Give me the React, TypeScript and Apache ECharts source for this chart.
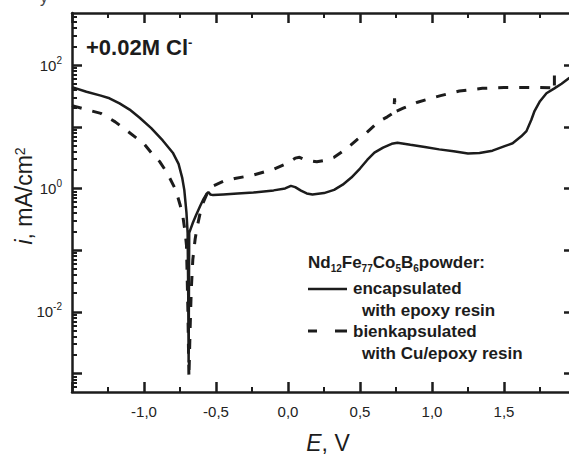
import React, { useEffect, useRef } from 'react';
import * as echarts from 'echarts';

const FONT = '"Liberation Sans", Arial, Helvetica, sans-serif';
const INK = '#1c1c1c';

// Potential E (V) and current density i (mA/cm2)
const encapsulatedE = [-1.5, -1.4, -1.3, -1.24, -1.17, -1.1, -1.03, -0.95, -0.87, -0.8, -0.76, -0.735, -0.72, -0.705, -0.697, -0.693, -0.69, -0.688, -0.686, -0.66, -0.638, -0.61, -0.59, -0.565, -0.553, -0.54, -0.52, -0.45, -0.35, -0.24, -0.1, -0.02, 0.02, 0.05, 0.09, 0.13, 0.17, 0.25, 0.32, 0.38, 0.44, 0.5, 0.55, 0.6, 0.66, 0.72, 0.76, 0.85, 0.95, 1.05, 1.15, 1.25, 1.33, 1.42, 1.5, 1.56, 1.62, 1.656, 1.69, 1.712, 1.75, 1.795, 1.85, 1.9, 1.95, 1.99];
const encapsulatedI = [44, 37, 32, 29, 24, 19, 14, 9.5, 6.0, 3.8, 2.5, 1.5, 0.94, 0.4, 0.19, 0.02, 0.0015, 0.02, 0.19, 0.28, 0.37, 0.52, 0.65, 0.82, 0.87, 0.8, 0.78, 0.8, 0.83, 0.86, 0.93, 1.0, 1.1, 1.05, 0.92, 0.83, 0.8, 0.84, 0.95, 1.15, 1.5, 2.1, 2.9, 3.8, 4.6, 5.3, 5.5, 5.1, 4.7, 4.3, 4.0, 3.7, 3.75, 4.1, 4.8, 5.4, 7.0, 8.5, 13, 18, 26, 35, 42, 50, 61, 70];

const bienkapsulatedE = [-1.5, -1.4, -1.3, -1.2, -1.1, -1.0, -0.95, -0.89, -0.84, -0.78, -0.75, -0.73, -0.715, -0.705, -0.695, -0.688, -0.68, -0.672, -0.661, -0.645, -0.632, -0.61, -0.59, -0.56, -0.52, -0.45, -0.37, -0.24, -0.1, 0.0, 0.05, 0.08, 0.12, 0.2, 0.27, 0.32, 0.38, 0.42, 0.48, 0.545, 0.6, 0.64, 0.69, 0.735, 0.74, 0.745, 0.8, 0.845, 0.9, 0.97, 1.06, 1.19, 1.35, 1.5, 1.66, 1.845, 1.85, 1.85];
const bienkapsulatedI = [22, 19, 16.5, 12, 8, 5.3, 3.8, 2.7, 1.8, 0.95, 0.55, 0.35, 0.2, 0.12, 0.01, 0.00085, 0.005, 0.022, 0.07, 0.15, 0.23, 0.4, 0.58, 0.85, 1.1, 1.3, 1.45, 1.65, 2.05, 2.6, 3.1, 3.2, 2.9, 2.7, 2.9, 3.2, 4.0, 4.7, 6.2, 8.0, 10.5, 12.5, 14.5, 17, 29, 17.5, 20, 22, 25, 28, 32, 38, 42, 43.5, 43.5, 43, 39, 78];

const xLabelValues = [-1.0, -0.5, 0.0, 0.5, 1.0, 1.5];
const yLabelExponents = [-2, 0, 2];
const yDecadeExponents = [-3, -2, -1, 0, 1, 2];
const yMin = 0.0005;
const yMax = 700;

export default function App() {
  const ref = useRef<HTMLDivElement>(null);
  useEffect(() => {
    if (!ref.current) return;
    const chart = echarts.init(ref.current, null, { renderer: 'svg' });
    const lmin = Math.log10(yMin);
    const lmax = Math.log10(yMax);
    const minorLogs: number[] = [];
    for (let n = -4; n <= 2; n++) {
      for (let k = 2; k <= 9; k++) {
        const v = n + Math.log10(k);
        if (v > lmin && v < lmax) minorLogs.push(v);
      }
    }
    const axisLineStyle = { color: INK, width: 2.5 };
    const xBase: any = {
      type: 'value', min: -1.5, max: 2, interval: 0.5,
      axisLine: { onZero: false, lineStyle: axisLineStyle },
      axisTick: { inside: true, length: 10, lineStyle: { color: INK, width: 2.5 } },
      minorTick: { show: true, splitNumber: 2, length: 5, lineStyle: { color: INK, width: 2 } },
      splitLine: { show: false },
      minorSplitLine: { show: false },
    };
    const ruler: any = {
      type: 'value', min: lmin, max: lmax, splitLine: { show: false },
    };
    chart.setOption({
      animation: false,
      grid: { left: 72, right: -7, top: 13, bottom: 64, containLabel: false, outerBoundsMode: 'none' },
      xAxis: [
        {
          ...xBase, position: 'bottom',
          axisLabel: {
            margin: 12, fontSize: 15, color: '#222', fontFamily: FONT,
            formatter: (v: number) => (xLabelValues.some((t) => Math.abs(t - v) < 1e-6) ? v.toFixed(1).replace('.', ',') : ''),
          },
        },
        { ...xBase, position: 'top', axisLabel: { show: false } },
      ],
      yAxis: [
        { type: 'log', logBase: 10, min: yMin, max: yMax, show: false },
        {
          ...ruler, position: 'left',
          axisLine: { show: true, onZero: false, lineStyle: axisLineStyle },
          axisTick: { show: true, inside: true, length: 10, customValues: yDecadeExponents, lineStyle: { color: INK, width: 2.5 } },
          axisLabel: {
            show: true, margin: 10, customValues: yLabelExponents, fontFamily: FONT, color: '#222',
            formatter: (v: number) => `{b|10}{s|${Math.round(v)}}`,
            rich: {
              b: { fontSize: 15, lineHeight: 20, fontFamily: FONT, color: '#222' },
              s: { fontSize: 10, lineHeight: 10, verticalAlign: 'top', fontFamily: FONT, color: '#222' },
            },
          },
        },
        {
          ...ruler, position: 'left',
          axisLine: { show: false, onZero: false },
          axisTick: { show: true, inside: true, length: 5, customValues: minorLogs, lineStyle: { color: INK, width: 2 } },
          axisLabel: { show: false },
        },
        {
          ...ruler, position: 'right',
          axisLine: { show: true, onZero: false, lineStyle: axisLineStyle },
          axisTick: { show: true, inside: true, length: 12, customValues: yDecadeExponents, lineStyle: { color: INK, width: 2.5 } },
          axisLabel: { show: false },
        },
      ],
      series: [
        {
          type: 'line', name: 'encapsulated with epoxy resin', xAxisIndex: 0, yAxisIndex: 0,
          data: encapsulatedE.map((e, k) => [e, encapsulatedI[k]]),
          showSymbol: false, symbol: 'none', smooth: false,
          lineStyle: { color: INK, width: 2.5 }, z: 3,
        },
        {
          type: 'line', name: 'bienkapsulated with Cu/epoxy resin', xAxisIndex: 0, yAxisIndex: 0,
          data: bienkapsulatedE.map((e, k) => [e, bienkapsulatedI[k]]),
          showSymbol: false, symbol: 'none', smooth: false,
          lineStyle: { color: INK, width: 3, type: [10, 11] }, z: 3,
        },
      ],
      graphic: [
        {
          type: 'text', x: 40, y: -11,
          style: { text: 'y', font: `16px ${FONT}`, fill: '#444', verticalAlign: 'top' },
        },
        {
          type: 'text', x: 86, y: 47,
          style: {
            text: '+0.02M Cl{s|-}', font: `bold 22px ${FONT}`, fill: INK, verticalAlign: 'middle',
            rich: { s: { font: `bold 13px ${FONT}`, fill: INK, verticalAlign: 'top', lineHeight: 12 } },
          },
        },
        {
          type: 'text', x: 24, y: 196, rotation: Math.PI / 2,
          style: {
            text: '{it|i}, mA/cm{s|2}', font: `23px ${FONT}`, fill: INK, align: 'center', verticalAlign: 'middle',
            rich: {
              it: { font: `italic 23px ${FONT}`, fill: INK },
              s: { font: `14px ${FONT}`, fill: INK, verticalAlign: 'top', lineHeight: 14 },
            },
          },
        },
        {
          type: 'text', x: 328, y: 443,
          style: {
            text: '{it|E}, V', font: `23px ${FONT}`, fill: INK, align: 'center', verticalAlign: 'middle',
            rich: { it: { font: `italic 23px ${FONT}`, fill: INK } },
          },
        },
        {
          type: 'text', x: 308, y: 262,
          style: {
            text: 'Nd{d|12}Fe{d|77}Co{d|5}B{d|6}powder:', font: `bold 17px ${FONT}`, fill: INK, verticalAlign: 'middle', lineHeight: 22,
            rich: { d: { font: `bold 10px ${FONT}`, fill: INK, verticalAlign: 'bottom', lineHeight: 11 } },
          },
        },
        { type: 'line', shape: { x1: 308, y1: 289, x2: 347, y2: 289 }, style: { stroke: INK, lineWidth: 2.5 } },
        { type: 'text', x: 353, y: 288, style: { text: 'encapsulated', font: `bold 17px ${FONT}`, fill: INK, verticalAlign: 'middle' } },
        { type: 'text', x: 362, y: 310, style: { text: 'with epoxy resin', font: `bold 17px ${FONT}`, fill: INK, verticalAlign: 'middle' } },
        { type: 'line', shape: { x1: 308, y1: 331, x2: 317, y2: 331 }, style: { stroke: INK, lineWidth: 3 } },
        { type: 'line', shape: { x1: 335, y1: 331, x2: 347, y2: 331 }, style: { stroke: INK, lineWidth: 3 } },
        { type: 'text', x: 353, y: 331, style: { text: 'bienkapsulated', font: `bold 17px ${FONT}`, fill: INK, verticalAlign: 'middle' } },
        { type: 'text', x: 362, y: 353, style: { text: 'with Cu/epoxy resin', font: `bold 17px ${FONT}`, fill: INK, verticalAlign: 'middle' } },
      ],
    });
    return () => chart.dispose();
  }, []);
  return <div ref={ref} style={{ position: 'fixed', left: 0, top: 0, width: 569, height: 456, background: '#fff' }} />;
}
